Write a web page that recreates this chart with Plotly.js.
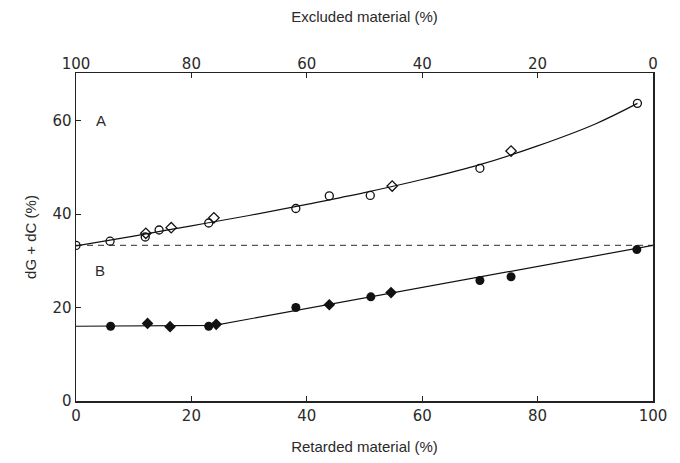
<!DOCTYPE html>
<html>
<head>
<meta charset="utf-8">
<script src="https://cdn.plot.ly/plotly-3.0.1.min.js"></script>
<style>html,body{margin:0;padding:0;background:#fff;}#chart{width:680px;height:463px;}</style>
</head>
<body>
<div id="chart"></div>
<script>
// Series A (open symbols)
var aX = [0, 5.9, 12.0, 12.1, 14.4, 16.5, 23.0, 23.9, 38.1, 43.9, 51.0, 54.8, 70.0, 75.4, 97.3];
var aY = [33.3, 34.2, 35.1, 35.9, 36.6, 37.1, 38.1, 39.2, 41.2, 43.9, 44.0, 46.0, 49.8, 53.5, 63.7];
var aSym = ['circle-open','circle-open','circle-open','diamond-open','circle-open','diamond-open','circle-open','diamond-open','circle-open','circle-open','circle-open','diamond-open','circle-open','diamond-open','circle-open'];
// Series B (filled symbols)
var bX = [6.0, 12.4, 16.3, 23.0, 24.3, 38.1, 43.9, 51.1, 54.6, 70.0, 75.4, 97.2];
var bY = [16.0, 16.6, 15.9, 16.0, 16.4, 20.0, 20.6, 22.3, 23.2, 25.8, 26.6, 32.4];
var bSym = ['circle','diamond','diamond','circle','diamond','circle','diamond','circle','diamond','circle','circle','circle'];
// Fitted curves
var curveAX = [0, 10, 20, 30, 40, 50, 60, 70, 80, 90, 97.3];
var curveAY = [33.2, 35.3, 37.5, 39.7, 42.1, 44.6, 47.4, 50.6, 54.6, 59.3, 63.7];
var lineBX = [0, 24, 100];
var lineBY = [16.0, 16.2, 33.3];
var refX = [0, 100];
var refY = [33.3, 33.3];
// Axis ticks
var bottomTicks = [0, 20, 40, 60, 80, 100];
var topTicks = [100, 80, 60, 40, 20, 0];
var yTicks = [0, 20, 40, 60];

var font = {family: 'Liberation Sans, DejaVu Sans, sans-serif', size: 15, color: '#2a2a2a'};
var tfont = {family: 'DejaVu Sans, sans-serif', size: 15, color: '#2a2a2a'};

var traces = [
  {x: refX, y: refY, mode: 'lines', line: {color: '#555', width: 1.2, dash: '6px,5px'}, hoverinfo: 'skip'},
  {x: curveAX, y: curveAY, mode: 'lines', line: {color: '#111', width: 1.2, shape: 'spline', smoothing: 1}, hoverinfo: 'skip'},
  {x: lineBX, y: lineBY, mode: 'lines', line: {color: '#111', width: 1.2}, hoverinfo: 'skip'},
  {x: aX, y: aY, mode: 'markers', marker: {symbol: aSym, size: 8, color: '#111', line: {width: 1.3, color: '#111'}}},
  {x: bX, y: bY, mode: 'markers', marker: {symbol: bSym, size: 9, color: '#111', line: {width: 0}}},
  {x: [], y: [], xaxis: 'x2', mode: 'markers'}
];

var layout = {
  width: 680, height: 463,
  margin: {l: 76, r: 27, t: 73, b: 62},
  paper_bgcolor: '#fff', plot_bgcolor: '#fff',
  showlegend: false,
  font: font,
  xaxis: {
    range: [0, 100], tickvals: bottomTicks, ticktext: bottomTicks.map(String),
    ticks: 'inside', ticklen: 5, tickcolor: '#222', tickwidth: 1.2,
    showline: true, linecolor: '#222', linewidth: 1.5, mirror: true,
    showgrid: false, zeroline: false,
    tickfont: tfont,
    title: {text: 'Retarded material (%)', font: font, standoff: 18}
  },
  xaxis2: {
    overlaying: 'x', side: 'top', anchor: 'y',
    range: [100, 0], tickvals: topTicks, ticktext: topTicks.map(String),
    ticks: 'inside', ticklen: 5, tickcolor: '#222', tickwidth: 1.2,
    showline: false, showgrid: false, zeroline: false,
    tickfont: tfont,
    title: {text: 'Excluded material (%)', font: font, standoff: 28}
  },
  yaxis: {
    range: [0, 70.2], tickvals: yTicks, ticktext: yTicks.map(String),
    ticks: 'inside', ticklen: 5, tickcolor: '#222', tickwidth: 1.2,
    showline: true, linecolor: '#222', linewidth: 1.5, mirror: true,
    showgrid: false, zeroline: false,
    tickfont: tfont,
    title: {text: 'dG + dC (%)', font: font, standoff: 12}
  },
  annotations: [
    {x: 4.3, y: 60, xref: 'x', yref: 'y', text: 'A', showarrow: false, font: {family: font.family, size: 15, color: '#2a2a2a'}},
    {x: 4.2, y: 28, xref: 'x', yref: 'y', text: 'B', showarrow: false, font: {family: font.family, size: 15, color: '#2a2a2a'}}
  ]
};

Plotly.newPlot('chart', traces, layout, {displayModeBar: false, staticPlot: true});
</script>
</body>
</html>
